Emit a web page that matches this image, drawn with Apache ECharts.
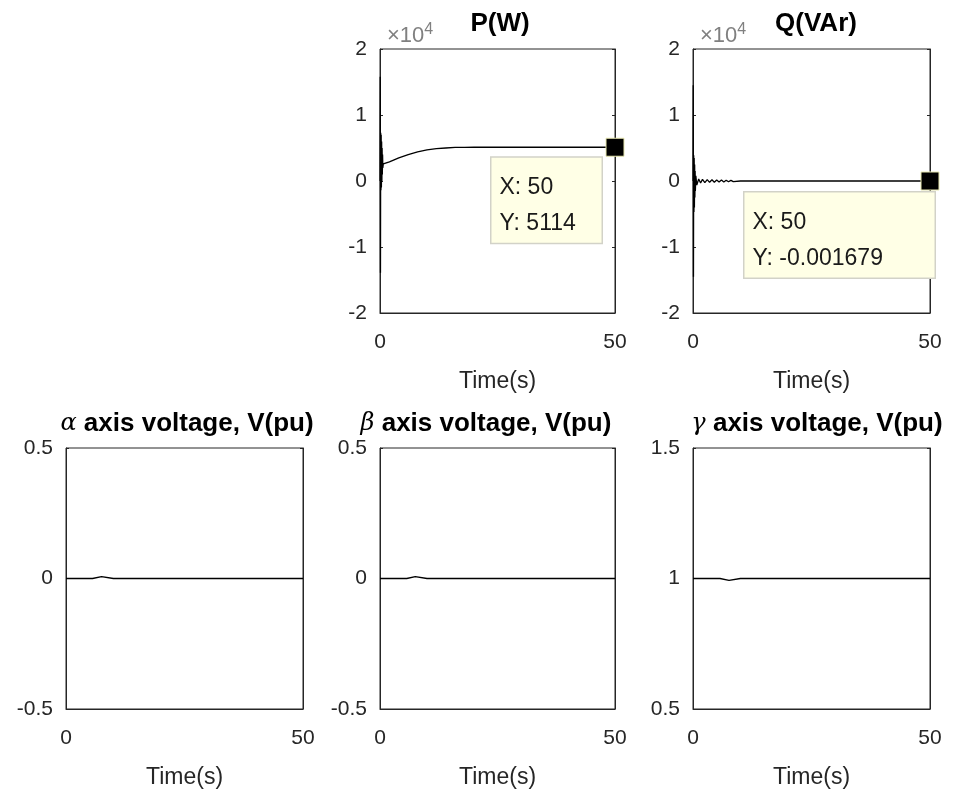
<!DOCTYPE html>
<html>
<head>
<meta charset="utf-8">
<script src="https://cdn.jsdelivr.net/npm/echarts@6/dist/echarts.min.js"></script>
<style>
  html, body { margin: 0; padding: 0; background: #fff; }
  #main { width: 958px; height: 797px; }
</style>
</head>
<body>
<div id="main"></div>
<script>
// P(W) - active power
const pTime = [0, 0.05, 0.1, 0.15, 0.2, 0.25, 0.3, 0.35, 0.4, 0.45, 0.5, 0.55, 0.6, 0.7, 1, 2, 3, 4, 6, 8, 10, 12, 14, 16, 18, 20, 30, 40, 50];
const pValue = [0, 15800, -13900, 7300, -1400, 7000, -1000, 6000, 0, 5000, 1000, 4000, 2000, 2600, 2700, 2900, 3200, 3500, 4000, 4400, 4700, 4900, 5000, 5080, 5100, 5110, 5114, 5114, 5114];

// Q(VAr) - reactive power
const qTime = [0, 0.05, 0.1, 0.15, 0.2, 0.25, 0.3, 0.35, 0.4, 0.45, 0.5, 0.6, 0.8, 1.2, 1.6, 2, 2.5, 3, 3.5, 4, 4.5, 5, 5.5, 6, 6.5, 7, 7.5, 8, 8.5, 10, 20, 30, 40, 50];
const qValue = [0, 14500, -14500, 3900, -4700, 3500, -4000, 2500, -2500, 1500, -1500, 800, -600, 300, -300, 250, -250, 200, -200, 180, -180, 150, -150, 150, -150, 120, -120, 100, -100, 0, 0, 0, 0, -0.001679];

// voltages (pu)
const alphaTime = [0, 5.6, 6.0, 7.5, 7.9, 10, 20, 30, 40, 50];
const alphaValue = [0, 0, 0.007, 0.007, 0, 0, 0, 0, 0, 0];
const betaTime = [0, 5.7, 6.1, 7.5, 7.9, 10, 20, 30, 40, 50];
const betaValue = [0, 0, 0.007, 0.007, 0, 0, 0, 0, 0, 0];
const gammaTime = [0, 5.7, 6.1, 7.6, 8.0, 10, 20, 30, 40, 50];
const gammaValue = [1, 1, 0.993, 0.993, 1, 1, 1, 1, 1, 1];

const pTip = [50, 5114];
const qTip = [50, -0.001679];

const zip = (a, b) => a.map((t, i) => [t, b[i]]);

const FONT = 'Liberation Sans, Arial, Helvetica, sans-serif';
const TXT = '#262626';

const grids = [
  { left: 380, top: 49, width: 235, height: 264 },
  { left: 693, top: 49, width: 237, height: 264 },
  { left: 66, top: 448, width: 237, height: 261 },
  { left: 380, top: 448, width: 235, height: 261 },
  { left: 693, top: 448, width: 237, height: 261 }
];

const yRanges = [
  { min: -20000, max: 20000, interval: 10000, fmt: v => String(v / 10000) },
  { min: -20000, max: 20000, interval: 10000, fmt: v => String(v / 10000) },
  { min: -0.5, max: 0.5, interval: 0.5, fmt: v => String(v) },
  { min: -0.5, max: 0.5, interval: 0.5, fmt: v => String(v) },
  { min: 0.5, max: 1.5, interval: 0.5, fmt: v => String(v) }
];

const xAxes = [];
const yAxes = [];
grids.forEach((g, i) => {
  xAxes.push({
    type: 'value', gridIndex: i, min: 0, max: 50, interval: 50,
    name: 'Time(s)', nameLocation: 'middle', nameGap: 57,
    nameTextStyle: { fontFamily: FONT, fontSize: 23, color: TXT },
    axisLine: { show: true, onZero: false, lineStyle: { color: TXT } },
    axisTick: { show: true, inside: true, length: 3, lineStyle: { color: TXT } },
    axisLabel: { fontFamily: FONT, fontSize: 21, color: TXT, margin: 19 },
    splitLine: { show: false }
  });
  const r = yRanges[i];
  yAxes.push({
    type: 'value', gridIndex: i, min: r.min, max: r.max, interval: r.interval,
    axisLine: { show: true, onZero: false, lineStyle: { color: TXT } },
    axisTick: { show: true, inside: true, length: 3, lineStyle: { color: TXT } },
    axisLabel: { fontFamily: FONT, fontSize: 21, color: TXT, margin: 13, formatter: r.fmt },
    splitLine: { show: false }
  });
  // right-side ticks
  yAxes.push({
    type: 'value', gridIndex: i, position: 'right', min: r.min, max: r.max, interval: r.interval,
    axisLine: { show: true, onZero: false, lineStyle: { color: TXT } },
    axisTick: { show: true, inside: true, length: 3, lineStyle: { color: TXT } },
    axisLabel: { show: false },
    splitLine: { show: false }
  });
});

const lineSeries = (i, data) => ({
  type: 'line', xAxisIndex: i, yAxisIndex: i * 2, data: data,
  showSymbol: false, symbol: 'none', animation: false,
  lineStyle: { color: '#000', width: 1.3 }
});

const tipSeries = (i, pt, text, pos, w) => ({
  type: 'scatter', xAxisIndex: i, yAxisIndex: i * 2, data: [pt],
  symbol: 'rect', symbolSize: 18, animation: false, z: 10,
  itemStyle: { color: '#000', opacity: 1, borderColor: '#e8e8b0', borderWidth: 1 },
  label: {
    show: true, position: pos, formatter: text,
    fontFamily: FONT, fontSize: 23, color: '#1a1a1a', lineHeight: 36,
    backgroundColor: '#ffffe6', borderColor: '#d2d2c8', borderWidth: 1.5,
    padding: [12, 8, 1, 8], width: w, align: 'left'
  }
});

const titleStyle = {
  fontFamily: FONT, fontSize: 26, fontWeight: 'bold', color: '#000',
  rich: { g: { fontFamily: 'DejaVu Serif', fontStyle: 'italic', fontWeight: 'normal', fontSize: 24, color: '#000' } }
};
const expStyle = {
  fontFamily: FONT, fontSize: 22, fontWeight: 'normal', color: '#808080',
  rich: { s: { fontFamily: FONT, fontSize: 16, color: '#808080', verticalAlign: 'top', padding: [0, 0, 12, 0] } }
};

const chart = echarts.init(document.getElementById('main'), null, { renderer: 'canvas' });
chart.setOption({
  backgroundColor: '#fff',
  animation: false,
  title: [
    { text: 'P(W)', left: 495, top: 6, textAlign: 'center', textStyle: titleStyle },
    { text: 'Q(VAr)', left: 811, top: 6, textAlign: 'center', textStyle: titleStyle },
    { text: '×10{s|4}', left: 382, top: 17, textStyle: expStyle },
    { text: '×10{s|4}', left: 695, top: 17, textStyle: expStyle },
    { text: '{g|α} axis voltage, V(pu)', left: 182, top: 406, textAlign: 'center', textStyle: titleStyle },
    { text: '{g|β} axis voltage, V(pu)', left: 481, top: 406, textAlign: 'center', textStyle: titleStyle },
    { text: '{g|γ} axis voltage, V(pu)', left: 812, top: 406, textAlign: 'center', textStyle: titleStyle }
  ],
  grid: grids.map(g => Object.assign({ show: true, borderColor: TXT, borderWidth: 1, backgroundColor: '#fff', containLabel: false }, g)),
  xAxis: xAxes,
  yAxis: yAxes,
  series: [
    lineSeries(0, zip(pTime, pValue)),
    lineSeries(1, zip(qTime, qValue)),
    lineSeries(2, zip(alphaTime, alphaValue)),
    lineSeries(3, zip(betaTime, betaValue)),
    lineSeries(4, zip(gammaTime, gammaValue)),
    tipSeries(0, pTip, 'X: ' + pTip[0] + '\nY: ' + pTip[1], [-114, 20], 94),
    tipSeries(1, qTip, 'X: ' + qTip[0] + '\nY: ' + qTip[1], [-176, 21], 174)
  ]
});
</script>
</body>
</html>
